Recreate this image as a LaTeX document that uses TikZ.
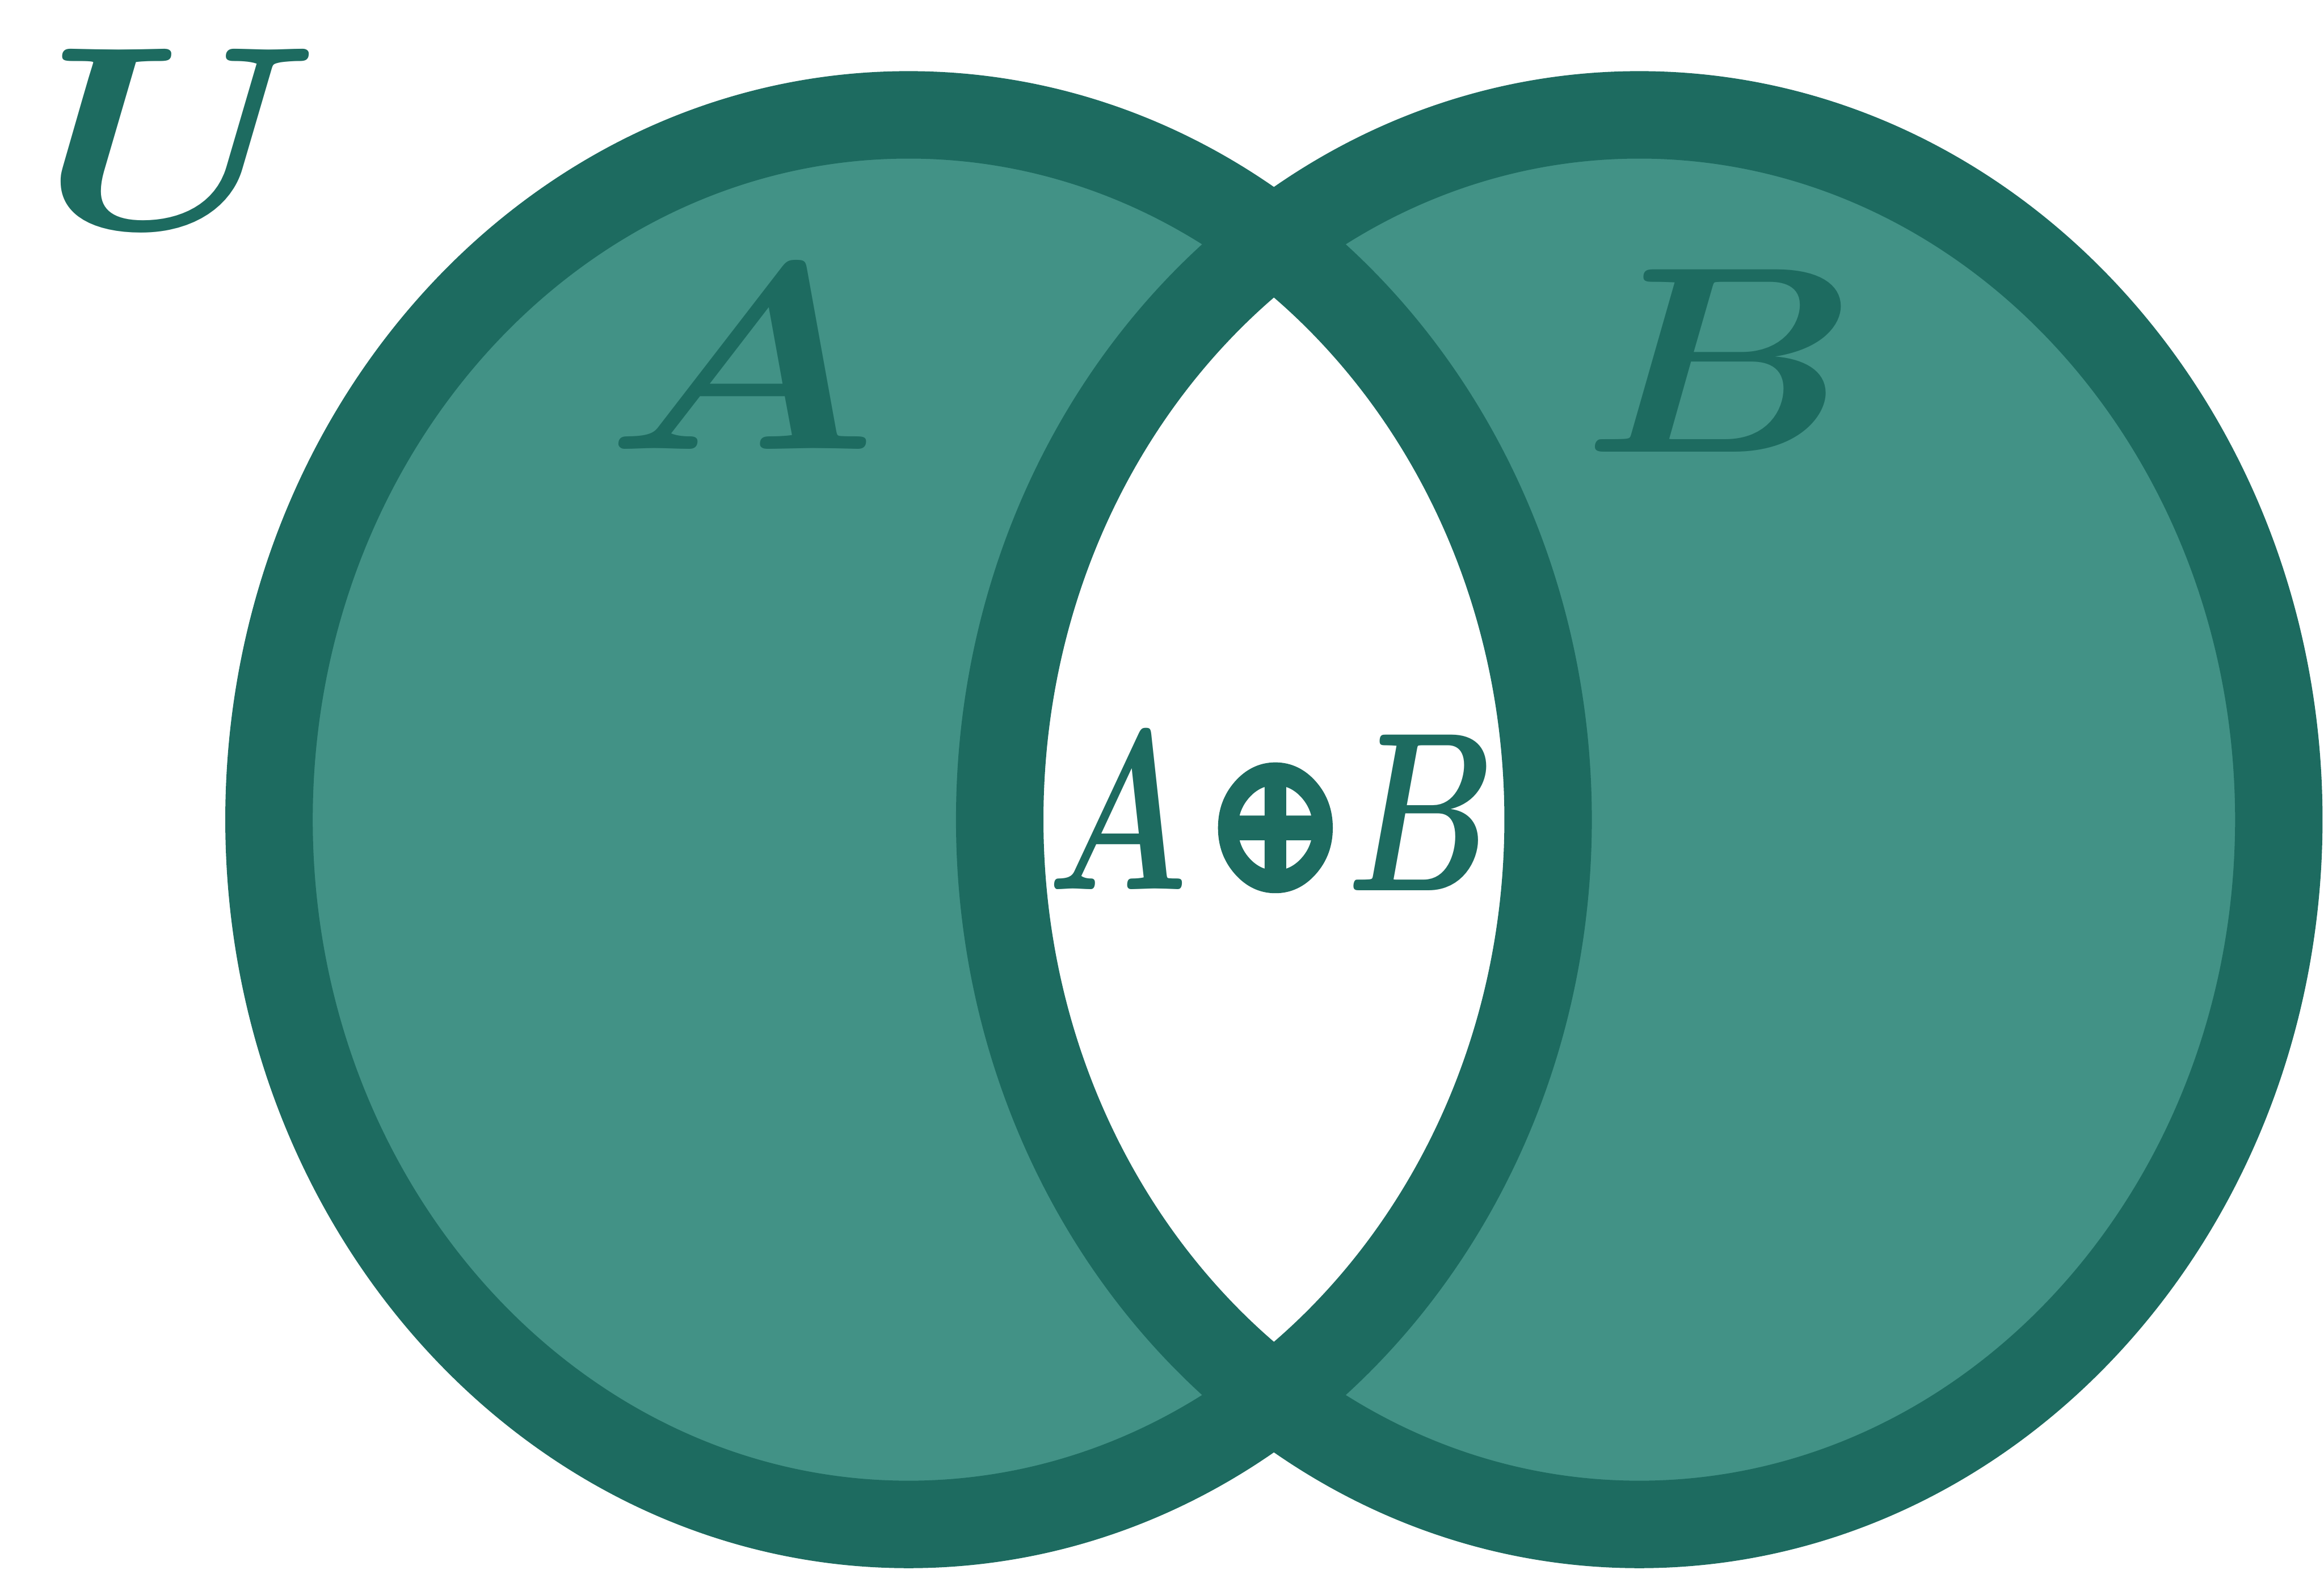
\documentclass[tikz,border=0pt]{standalone}
\usepackage{fontspec}
\usepackage{graphicx}
\newfontfamily\opfont[FakeBold=5]{DejaVu Sans}
\definecolor{venndark}{HTML}{1D6B60}
\definecolor{vennfill}{HTML}{429286}
\newlength\pxu
\setlength\pxu{0.5pt}
\newcommand\bm[1]{{\boldmath$#1$}}
\begin{document}
\begin{tikzpicture}[x=0.5pt,y=-0.5pt,
  setring/.style={draw=venndark, line width=29.5pt},
  lbl/.style={inner sep=0pt, outer sep=0pt, text=venndark, anchor=base}]
\useasboundingbox (0,0) rectangle (1568,1059);
% fills
\fill[vennfill] (613,553) ellipse [x radius=215.75pt, y radius=237.75pt];
\fill[vennfill] (1106,553) ellipse [x radius=215.75pt, y radius=237.75pt];
\begin{scope}
  \clip (613,553) ellipse [x radius=215.75pt, y radius=237.75pt];
  \fill[white] (1106,553) ellipse [x radius=215.75pt, y radius=237.75pt];
\end{scope}
% rings
\draw[setring] (613,553) ellipse [x radius=215.75pt, y radius=237.75pt];
\draw[setring] (1106,553) ellipse [x radius=215.75pt, y radius=237.75pt];
% labels
\node[lbl] (U) at (122,154) {\resizebox{188\pxu}{121\pxu}{\bm{U}}};
\node[lbl] (A) at (500,303) {\resizebox{184\pxu}{123\pxu}{\bm{A}}};
\node[lbl] (B) at (1161,305) {\resizebox{187\pxu}{123\pxu}{\bm{B}}};
\node[lbl] (a2) at (754,600) {\resizebox{95\pxu}{105\pxu}{\bm{A}}};
\node[lbl, anchor=center] (op) at (860.5,558.5) {\resizebox*{92\pxu}{82\pxu}{\opfont ⊕}};
\node[lbl] (b2) at (959,601) {\resizebox{101\pxu}{105\pxu}{\bm{B}}};
\end{tikzpicture}
\end{document}
